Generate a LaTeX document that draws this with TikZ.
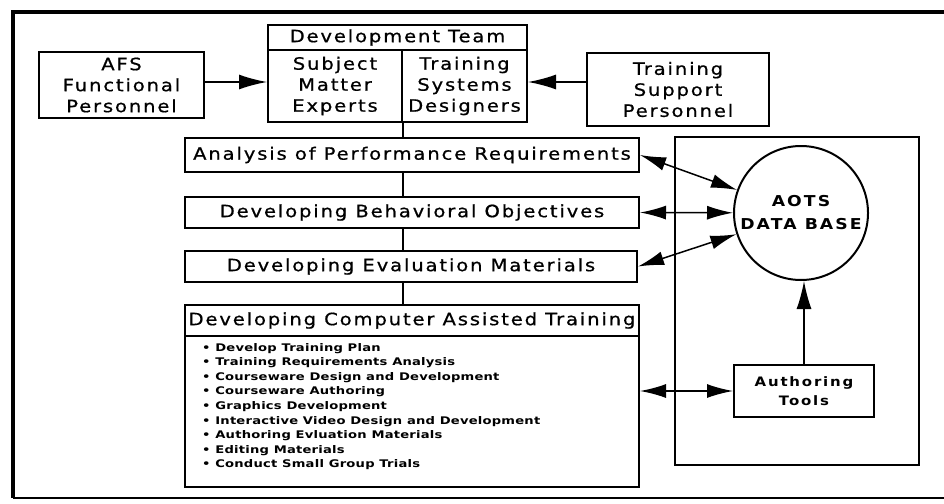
\documentclass[tikz,border=0pt]{standalone}
\usepackage{fontspec}
\setmainfont{DejaVu Sans}
\newfontfamily\pf[FakeStretch=1.15,LetterSpace=11,FakeBold=0.8]{DejaVu Sans}
\newfontfamily\df[FakeStretch=1.15,LetterSpace=14]{DejaVu Sans}
\newfontfamily\lf[FakeStretch=1.25,LetterSpace=2]{DejaVu Sans}
\usetikzlibrary{arrows.meta}
\begin{document}
\begin{tikzpicture}[x=1pt,y=-1pt,
  box/.style={draw, line width=2pt, inner sep=0pt, align=center,
    font=\pf\fontsize{17}{21}\selectfont},
  conn/.style={line width=1.5pt},
  arr/.style={line width=1.5pt, -{Latex[length=28pt,width=15pt]}},
  dbl/.style={line width=1.5pt, {Latex[length=26pt,width=14pt]}-{Latex[length=26pt,width=14pt]}}]
\useasboundingbox (0,0) rectangle (944,503);
% frame
\draw[line width=3.5pt] (944,12) -- (13,12) -- (13,498);
\draw[line width=2pt] (13,498) -- (944,498);
% top row
\node[box, minimum width=165, minimum height=66] (afs) at (121.5,85) {AFS\\Functional\\Personnel};
\node[box, minimum width=259, minimum height=25] (devhead) at (397.5,37.5) {Development Team};
\node[box, minimum width=134, minimum height=72] (sme) at (335,86) {Subject\\Matter\\Experts};
\node[box, minimum width=125, minimum height=72] (tsd) at (464.5,86) {Training\\Systems\\Designers};
\node[box, minimum width=182, minimum height=73] (tsp) at (678,89.5) {Training\\Support\\Personnel};
\coordinate (ay) at (0,82);
\draw[arr] (afs.east |- ay) -- (sme.west |- ay);
\draw[arr] (tsp.west |- ay) -- (tsd.east |- ay);
% process boxes
\node[box, minimum width=454, minimum height=34] (ana) at (412,155) {Analysis of Performance Requirements};
\node[box, minimum width=454, minimum height=31] (beh) at (412,212.5) {Developing Behavioral Objectives};
\node[box, minimum width=452, minimum height=31] (eva) at (411,266.5) {Developing Evaluation Materials};
\node[box, minimum width=454, minimum height=31] (cath) at (412,320.5) {Developing Computer Assisted Training};
\node[box, minimum width=454, minimum height=151] (catb) at (412,411.5) {};
\node[anchor=north west, align=left, inner sep=0pt,
  font=\lf\bfseries\fontsize{10.5}{14.6}\selectfont] (list) at (202,343)
  {\textbullet\ Develop Training Plan\\
   \textbullet\ Training Requirements Analysis\\
   \textbullet\ Courseware Design and Development\\
   \textbullet\ Courseware Authoring\\
   \textbullet\ Graphics Development\\
   \textbullet\ Interactive Video Design and Development\\
   \textbullet\ Authoring Evluation Materials\\
   \textbullet\ Editing Materials\\
   \textbullet\ Conduct Small Group Trials};
% vertical connectors
\coordinate (vx) at (403,0);
\draw[conn] (sme.south east) -- (ana.north -| vx);
\draw[conn] (ana.south -| vx) -- (beh.north -| vx);
\draw[conn] (beh.south -| vx) -- (eva.north -| vx);
\draw[conn] (eva.south -| vx) -- (cath.north -| vx);
% right panel
\node[draw, line width=1.5pt, minimum width=244, minimum height=328, inner sep=0pt] (panel) at (797,301) {};
\node[circle, draw, line width=2pt, minimum size=134, inner sep=0pt, align=center,
  font=\df\bfseries\fontsize{15}{23}\selectfont] (db) at (801,213) {AOTS\\DATA BASE};
\node[box, minimum width=140, minimum height=52,
  font=\df\bfseries\fontsize{13}{19}\selectfont] (aut) at (804,391) {Authoring\\Tools};
\draw[dbl] (ana.east) -- (db);
\draw[dbl] (beh.east) -- (db);
\draw[dbl] (eva.east) -- (db);
\draw[dbl] (catb.east |- aut.west) -- (aut.west);
\draw[arr] (aut.north) -- (aut.north |- db.south);
\end{tikzpicture}
\end{document}
